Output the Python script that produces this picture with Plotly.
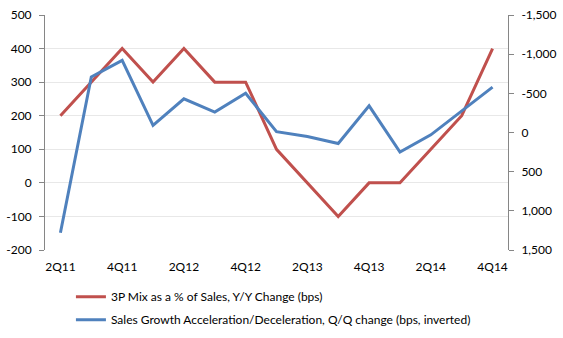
import plotly.graph_objects as go

quarters = ["2Q11", "3Q11", "4Q11", "1Q12", "2Q12", "3Q12", "4Q12", "1Q13",
            "2Q13", "3Q13", "4Q13", "1Q14", "2Q14", "3Q14", "4Q14"]
mix_3p_bps = [200, 300, 400, 300, 400, 300, 300, 100, 0, -100, 0, 0, 100, 200, 400]
sales_accel_bps = [1280, -710, -920, -90, -430, -260, -500, -10, 50, 140, -340, 250, 30, -280, -580]

x_label_vals = ["2Q11", "4Q11", "2Q12", "4Q12", "2Q13", "4Q13", "2Q14", "4Q14"]
left_tick_vals = [-200, -100, 0, 100, 200, 300, 400, 500]
left_tick_text = ["-200", "-100", "0", "100", "200", "300", "400", "500"]
right_tick_vals = [-1500, -1000, -500, 0, 500, 1000, 1500]
right_tick_text = ["-1,500", "-1,000", "-500", "0", "500", "1,000", "1,500"]

name_red = "3P Mix as a % of Sales, Y/Y Change (bps)"
name_blue = "Sales Growth Acceleration/Deceleration, Q/Q change (bps, inverted)"

RED = "#C0504D"
BLUE = "#4F81BD"
AXIS = "#868686"
GRID = "#E8E8E8"
FONT = "Lato"
FS = 12

fig = go.Figure()
fig.add_trace(go.Scatter(x=quarters, y=mix_3p_bps, name=name_red, mode="lines",
                         line=dict(color=RED, width=3), legendgroup="a",
                         xaxis="x", yaxis="y"))
fig.add_trace(go.Scatter(x=quarters, y=sales_accel_bps, name=name_blue, mode="lines",
                         line=dict(color=BLUE, width=3), legendgroup="b",
                         xaxis="x", yaxis="y2"))

# boundaries between categories for the tick marks on the axis crossing at zero
boundaries = [i + 0.5 for i in range(-1, len(quarters))]

fig.update_layout(
    width=563, height=338,
    margin=dict(l=45, r=55, t=15, b=88, autoexpand=False),
    paper_bgcolor="white", plot_bgcolor="white",
    font=dict(family=FONT, size=FS, color="#000000"),
    showlegend=True,
    legend=dict(orientation="v", x=0.056, xanchor="left", y=-0.137, yanchor="top",
                traceorder="grouped", tracegroupgap=4,
                font=dict(family=FONT, size=FS, color="#000000"),
                bgcolor="rgba(0,0,0,0)"),
    xaxis=dict(type="category", categoryorder="array", categoryarray=quarters,
               range=[-0.5, len(quarters) - 0.5],
               tickmode="array", tickvals=x_label_vals, ticktext=x_label_vals,
               showline=False, showgrid=False, zeroline=False, ticks="",
               ticklabelstandoff=8),
    xaxis2=dict(overlaying="x", anchor="free", position=(0 - (-200)) / 700,
                range=[-0.5, len(quarters) - 0.5],
                tickmode="array", tickvals=boundaries, ticks="outside", ticklen=5,
                tickcolor=AXIS, tickwidth=1,
                showticklabels=False, showline=True, linecolor=AXIS, linewidth=1,
                showgrid=False, zeroline=False),
    yaxis=dict(range=[-200, 500], tickmode="array", tickvals=left_tick_vals,
               ticktext=left_tick_text, showgrid=True, gridcolor=GRID, gridwidth=1,
               zeroline=False, showline=True, linecolor=AXIS, linewidth=1,
               ticks="outside", ticklen=5, tickcolor=AXIS, ticklabelstandoff=5),
    yaxis2=dict(overlaying="y", side="right", anchor="x", range=[1500, -1500],
                tickmode="array", tickvals=right_tick_vals, ticktext=right_tick_text,
                showgrid=False, zeroline=False, showline=True, linecolor=AXIS,
                linewidth=1, ticks="outside", ticklen=5, tickcolor=AXIS,
                ticklabelstandoff=5),
)

fig.write_html("out.html")
